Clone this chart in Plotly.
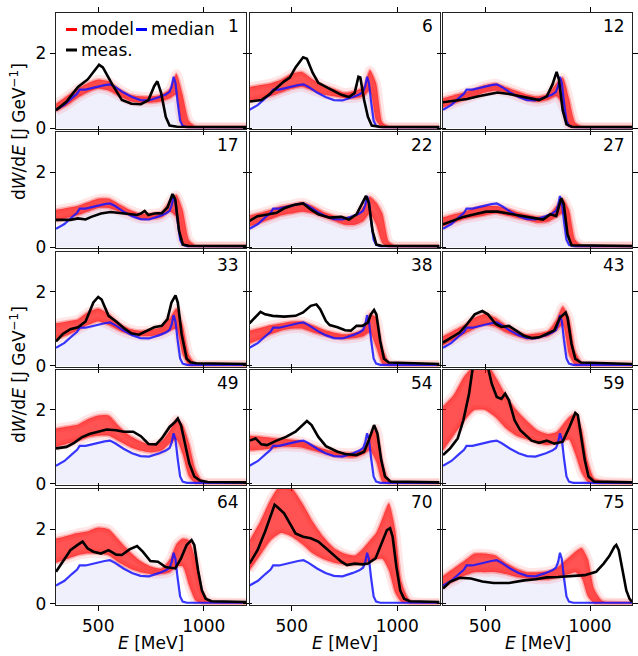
import plotly.graph_objects as go

W, H = 638, 656

# ---------------- data ----------------
panel_ids = [1, 6, 12, 17, 22, 27, 33, 38, 43, 49, 54, 59, 64, 70, 75]

median_E = [300, 340, 375, 400, 412, 440, 470, 500, 530, 556, 580, 620, 660, 700, 740, 790, 820, 838, 848, 857, 866, 876, 888, 900, 920, 1200]
median_V = [0.49, 0.62, 0.80, 0.92, 1.03, 1.03, 1.07, 1.12, 1.15, 1.17, 1.10, 0.95, 0.83, 0.75, 0.74, 0.83, 0.90, 0.97, 1.12, 1.37, 1.20, 0.70, 0.20, 0.06, 0.03, 0.03]

red_E = [300, 350, 400, 450, 500, 550, 600, 650, 700, 750, 800, 840, 870, 900, 930, 960, 990, 1020, 1060, 1200]

red_lo = {
    1:  [0.45, 0.60, 0.80, 0.95, 1.05, 1.00, 0.85, 0.72, 0.68, 0.68, 0.72, 0.80, 0.90, 0.05, 0.02, 0.02, 0.02, 0.02, 0.02, 0.02],
    6:  [0.70, 0.78, 0.85, 0.95, 1.05, 1.10, 1.00, 0.90, 0.85, 0.80, 0.80, 0.85, 1.00, 0.20, 0.02, 0.02, 0.02, 0.02, 0.02, 0.02],
    12: [0.55, 0.65, 0.75, 0.85, 0.95, 1.00, 0.95, 0.85, 0.75, 0.70, 0.75, 0.85, 0.60, 0.05, 0.02, 0.02, 0.02, 0.02, 0.02, 0.02],
    17: [0.70, 0.78, 0.85, 0.95, 1.05, 1.05, 0.95, 0.85, 0.75, 0.75, 0.80, 0.95, 0.80, 0.10, 0.02, 0.02, 0.02, 0.02, 0.02, 0.02],
    22: [0.55, 0.65, 0.75, 0.85, 0.90, 0.95, 0.90, 0.80, 0.70, 0.60, 0.60, 0.70, 0.90, 0.60, 0.10, 0.02, 0.02, 0.02, 0.02, 0.02],
    27: [0.55, 0.65, 0.75, 0.80, 0.85, 0.90, 0.85, 0.78, 0.72, 0.65, 0.68, 0.80, 0.90, 0.20, 0.02, 0.02, 0.02, 0.02, 0.02, 0.02],
    33: [0.70, 0.82, 0.95, 1.10, 1.20, 1.10, 0.95, 0.85, 0.80, 0.80, 0.85, 0.95, 1.00, 0.30, 0.02, 0.02, 0.02, 0.02, 0.02, 0.02],
    38: [0.60, 0.72, 0.85, 0.95, 1.00, 1.00, 0.90, 0.82, 0.75, 0.72, 0.75, 0.80, 0.90, 0.50, 0.05, 0.02, 0.02, 0.02, 0.02, 0.02],
    43: [0.55, 0.70, 0.85, 1.00, 1.10, 1.05, 0.90, 0.80, 0.72, 0.75, 0.80, 0.95, 1.10, 0.30, 0.02, 0.02, 0.02, 0.02, 0.02, 0.02],
    49: [1.00, 1.08, 1.15, 1.25, 1.30, 1.30, 1.15, 1.00, 0.90, 0.85, 0.90, 1.10, 1.20, 0.80, 0.20, 0.02, 0.02, 0.02, 0.02, 0.02],
    54: [0.90, 0.92, 0.95, 1.00, 1.00, 0.98, 0.90, 0.82, 0.75, 0.72, 0.72, 0.80, 0.90, 0.60, 0.05, 0.02, 0.02, 0.02, 0.02, 0.02],
    59: [0.90, 1.30, 1.70, 2.00, 2.00, 1.80, 1.50, 1.30, 1.20, 1.10, 1.05, 1.10, 1.15, 1.20, 0.80, 0.30, 0.05, 0.02, 0.02, 0.02],
    64: [1.10, 1.20, 1.30, 1.35, 1.35, 1.30, 1.10, 0.95, 0.85, 0.80, 0.80, 0.85, 1.00, 1.00, 0.50, 0.10, 0.02, 0.02, 0.02, 0.02],
    70: [0.90, 1.30, 1.70, 1.90, 1.80, 1.60, 1.35, 1.20, 1.10, 1.05, 1.05, 1.10, 1.15, 1.20, 1.20, 0.90, 0.30, 0.05, 0.02, 0.02],
    75: [0.45, 0.60, 0.75, 0.85, 0.85, 0.85, 0.80, 0.72, 0.68, 0.65, 0.65, 0.70, 0.75, 0.80, 0.85, 0.70, 0.20, 0.02, 0.02, 0.02],
}

red_hi = {
    1:  [0.65, 0.85, 1.05, 1.20, 1.30, 1.25, 1.05, 0.90, 0.85, 0.85, 0.90, 1.05, 1.45, 0.90, 0.20, 0.05, 0.04, 0.04, 0.04, 0.04],
    6:  [1.10, 1.15, 1.20, 1.30, 1.45, 1.50, 1.30, 1.15, 1.05, 0.95, 1.00, 1.10, 1.55, 1.20, 0.15, 0.05, 0.04, 0.04, 0.04, 0.04],
    12: [0.80, 0.88, 0.95, 1.05, 1.15, 1.20, 1.10, 1.00, 0.90, 0.85, 0.92, 1.20, 1.35, 0.80, 0.15, 0.05, 0.04, 0.04, 0.04, 0.04],
    17: [1.00, 1.05, 1.10, 1.20, 1.30, 1.30, 1.15, 1.00, 0.90, 0.90, 0.95, 1.25, 1.40, 1.00, 0.20, 0.05, 0.04, 0.04, 0.04, 0.04],
    22: [0.85, 0.92, 1.00, 1.10, 1.15, 1.20, 1.10, 0.95, 0.85, 0.80, 0.80, 1.10, 1.35, 1.20, 0.90, 0.15, 0.04, 0.04, 0.04, 0.04],
    27: [0.80, 0.88, 0.95, 1.05, 1.10, 1.10, 1.05, 0.95, 0.88, 0.82, 0.85, 1.10, 1.30, 1.00, 0.20, 0.05, 0.04, 0.04, 0.04, 0.04],
    33: [1.15, 1.20, 1.25, 1.45, 1.55, 1.40, 1.15, 1.00, 0.95, 0.98, 1.05, 1.30, 1.55, 1.10, 0.30, 0.06, 0.04, 0.04, 0.04, 0.04],
    38: [0.95, 1.02, 1.10, 1.15, 1.20, 1.20, 1.10, 0.98, 0.90, 0.85, 0.90, 1.00, 1.40, 1.30, 0.50, 0.10, 0.04, 0.04, 0.04, 0.04],
    43: [0.80, 0.95, 1.10, 1.30, 1.40, 1.30, 1.10, 0.95, 0.85, 0.88, 0.95, 1.25, 1.60, 1.30, 0.40, 0.10, 0.04, 0.04, 0.04, 0.04],
    49: [1.50, 1.55, 1.60, 1.75, 1.85, 1.85, 1.55, 1.30, 1.15, 1.05, 1.15, 1.45, 1.75, 1.60, 1.10, 0.40, 0.10, 0.04, 0.04, 0.04],
    54: [1.30, 1.28, 1.25, 1.22, 1.20, 1.15, 1.05, 0.95, 0.88, 0.85, 0.85, 0.95, 1.30, 1.50, 0.60, 0.10, 0.04, 0.04, 0.04, 0.04],
    59: [2.10, 2.40, 2.90, 3.20, 3.30, 2.90, 2.40, 2.00, 1.70, 1.45, 1.35, 1.40, 1.60, 1.80, 1.90, 1.50, 0.60, 0.15, 0.08, 0.04],
    64: [1.75, 1.82, 1.90, 1.95, 2.05, 2.00, 1.70, 1.40, 1.15, 1.00, 0.95, 1.20, 1.60, 1.75, 1.70, 1.20, 0.40, 0.10, 0.05, 0.04],
    70: [1.70, 2.20, 2.80, 3.20, 3.10, 2.70, 2.20, 1.80, 1.50, 1.35, 1.30, 1.50, 1.70, 1.90, 2.30, 2.70, 2.00, 0.60, 0.10, 0.04],
    75: [0.75, 0.95, 1.15, 1.35, 1.35, 1.30, 1.10, 0.95, 0.85, 0.85, 0.88, 0.95, 1.10, 1.25, 1.40, 1.50, 1.20, 0.40, 0.08, 0.04],
}

meas_E = {
    1:  [300, 350, 404, 450, 504, 522, 567, 612, 657, 702, 738, 765, 780, 798, 820, 838, 874, 1200],
    6:  [300, 356, 392, 428, 464, 491, 518, 554, 572, 599, 626, 680, 735, 771, 798, 816, 825, 843, 861, 879, 915, 1200],
    12: [300, 361, 415, 469, 523, 560, 614, 668, 722, 758, 794, 821, 841, 852, 870, 888, 912, 1200],
    17: [300, 368, 404, 440, 467, 513, 558, 603, 657, 684, 702, 720, 738, 765, 801, 828, 852, 865, 883, 901, 928, 1200],
    22: [300, 338, 392, 428, 464, 509, 554, 590, 626, 680, 735, 771, 807, 834, 852, 865, 883, 901, 924, 1200],
    27: [300, 343, 397, 451, 505, 560, 614, 668, 722, 776, 812, 839, 863, 875, 893, 912, 1200],
    33: [300, 332, 368, 404, 440, 477, 500, 516, 549, 585, 621, 657, 693, 729, 765, 801, 828, 847, 866, 877, 895, 919, 937, 964, 1200],
    38: [300, 329, 352, 374, 410, 464, 518, 554, 590, 617, 635, 662, 680, 717, 753, 780, 807, 834, 861, 875, 890, 901, 919, 937, 960, 1200],
    43: [300, 343, 379, 415, 451, 487, 514, 551, 578, 614, 650, 686, 722, 758, 794, 830, 857, 870, 884, 893, 912, 930, 957, 1200],
    49: [300, 350, 386, 422, 458, 495, 540, 585, 621, 666, 702, 738, 774, 801, 838, 865, 877, 892, 910, 931, 955, 982, 1018, 1200],
    54: [300, 329, 356, 383, 428, 473, 518, 554, 572, 594, 626, 662, 717, 753, 807, 843, 865, 890, 906, 924, 942, 969, 1200],
    59: [300, 334, 370, 397, 424, 442, 478, 514, 532, 556, 578, 596, 614, 641, 668, 695, 722, 758, 794, 830, 870, 902, 930, 942, 957, 975, 993, 1020, 1200],
    64: [300, 332, 368, 404, 426, 449, 477, 513, 549, 585, 612, 648, 684, 711, 747, 783, 819, 865, 892, 919, 942, 955, 973, 991, 1009, 1036, 1200],
    70: [300, 338, 374, 401, 419, 437, 464, 491, 518, 554, 590, 626, 662, 698, 735, 762, 798, 834, 861, 897, 930, 951, 966, 978, 996, 1014, 1032, 1059, 1200],
    75: [300, 334, 379, 433, 487, 541, 614, 686, 740, 794, 848, 921, 975, 1029, 1065, 1092, 1116, 1125, 1137, 1155, 1173, 1188, 1200],
}

meas_V = {
    1:  [0.48, 0.71, 1.10, 1.30, 1.69, 1.62, 1.16, 0.75, 0.65, 0.64, 0.75, 1.12, 1.25, 0.94, 0.30, 0.07, 0.04, 0.03],
    6:  [0.71, 0.75, 0.89, 1.07, 1.25, 1.35, 1.62, 1.89, 1.85, 1.48, 1.21, 1.05, 0.89, 0.83, 0.94, 1.37, 1.35, 0.75, 0.30, 0.07, 0.04, 0.03],
    12: [0.69, 0.73, 0.78, 0.85, 0.92, 0.95, 0.91, 0.85, 0.77, 0.75, 0.85, 1.16, 1.50, 1.30, 0.48, 0.10, 0.04, 0.03],
    17: [0.73, 0.73, 0.77, 0.74, 0.81, 0.90, 0.94, 0.92, 0.88, 0.86, 0.90, 0.97, 0.86, 0.90, 0.91, 1.06, 1.42, 1.28, 0.43, 0.07, 0.04, 0.03],
    22: [0.70, 0.83, 0.88, 0.92, 1.04, 1.13, 1.17, 1.01, 0.88, 0.79, 0.81, 0.74, 0.88, 1.15, 1.37, 1.19, 0.43, 0.07, 0.04, 0.03],
    27: [0.61, 0.70, 0.81, 0.88, 0.95, 0.95, 0.90, 0.86, 0.79, 0.74, 0.88, 0.83, 1.31, 1.15, 0.34, 0.05, 0.03],
    33: [0.66, 0.86, 0.99, 1.04, 1.20, 1.71, 1.86, 1.79, 1.35, 1.20, 1.02, 0.88, 0.84, 0.93, 1.04, 1.08, 1.26, 1.71, 1.90, 1.71, 0.86, 0.19, 0.10, 0.07, 0.05],
    38: [1.15, 1.32, 1.46, 1.39, 1.35, 1.33, 1.35, 1.44, 1.62, 1.66, 1.53, 1.21, 1.10, 1.04, 0.96, 0.95, 1.08, 1.08, 1.17, 1.39, 1.51, 1.39, 0.68, 0.19, 0.09, 0.05],
    43: [0.63, 0.77, 0.90, 1.13, 1.39, 1.48, 1.39, 1.13, 1.05, 1.08, 0.95, 0.81, 0.75, 0.77, 0.86, 0.96, 1.30, 1.38, 1.44, 1.30, 0.59, 0.19, 0.09, 0.05],
    49: [0.96, 1.00, 1.11, 1.26, 1.35, 1.41, 1.47, 1.45, 1.41, 1.41, 1.29, 1.08, 1.07, 1.23, 1.54, 1.68, 1.77, 1.59, 1.09, 0.56, 0.20, 0.09, 0.05, 0.04],
    54: [1.17, 1.23, 1.07, 1.05, 1.17, 1.27, 1.41, 1.61, 1.70, 1.59, 1.27, 1.02, 0.87, 0.81, 0.78, 0.87, 1.18, 1.59, 1.36, 0.65, 0.20, 0.06, 0.04],
    59: [0.78, 0.96, 1.23, 1.72, 2.44, 3.15, 3.60, 3.15, 2.71, 2.35, 2.30, 2.44, 2.26, 1.72, 1.45, 1.32, 1.17, 1.11, 1.17, 1.09, 1.14, 1.54, 1.92, 1.86, 1.32, 0.65, 0.20, 0.06, 0.04],
    64: [0.86, 1.13, 1.44, 1.59, 1.67, 1.49, 1.40, 1.35, 1.44, 1.32, 1.31, 1.46, 1.55, 1.40, 1.15, 1.13, 0.99, 0.95, 1.22, 1.58, 1.71, 1.58, 0.90, 0.36, 0.14, 0.07, 0.05],
    70: [1.08, 1.44, 1.94, 2.34, 2.66, 2.57, 2.43, 2.16, 1.89, 1.80, 1.76, 1.67, 1.49, 1.33, 1.13, 1.04, 1.08, 1.06, 1.08, 1.22, 1.67, 1.98, 2.03, 1.80, 0.99, 0.36, 0.14, 0.07, 0.05],
    75: [0.41, 0.59, 0.70, 0.68, 0.60, 0.56, 0.56, 0.63, 0.66, 0.71, 0.72, 0.74, 0.77, 0.86, 1.08, 1.28, 1.53, 1.58, 1.44, 0.90, 0.36, 0.14, 0.05],
}

x_ticks = [500, 1000]
y_ticks = [0, 2]

# ---------------- layout geometry ----------------
col_px = [(56, 246), (249.5, 439.5), (443, 632)]
row_px = [(12.7, 129.3), (132, 248.3), (251.7, 367), (370, 485), (489, 605)]
FONT = "DejaVu Sans"


def px_x(p):
    return p / W


def px_y(p):
    return 1 - p / H


fig = go.Figure()
layout = dict(
    width=W, height=H,
    margin=dict(l=0, r=0, t=0, b=0),
    paper_bgcolor="white", plot_bgcolor="white",
    showlegend=False,
    font=dict(family=FONT, size=17, color="black"),
)
annotations = []
shapes = []
SPL = dict(shape="spline", smoothing=0.6)

for k, pid in enumerate(panel_ids):
    r, c = divmod(k, 3)
    n = k + 1
    xa = "x" if n == 1 else f"x{n}"
    ya = "y" if n == 1 else f"y{n}"
    xkey = "xaxis" if n == 1 else f"xaxis{n}"
    ykey = "yaxis" if n == 1 else f"yaxis{n}"
    x0, x1 = col_px[c]
    y0, y1 = row_px[r]
    layout[xkey] = dict(
        domain=[px_x(x0), px_x(x1)], anchor=ya, range=[300, 1200],
        tickvals=x_ticks, ticks="outside", ticklen=5, tickwidth=1.4, tickcolor="black",
        showline=True, linecolor="#222", linewidth=1.3, mirror="allticks",
        showgrid=False, zeroline=False, showticklabels=(r == 4),
        tickfont=dict(family=FONT, size=17, color="black"), automargin=False,
    )
    layout[ykey] = dict(
        domain=[px_y(y1), px_y(y0)], anchor=xa, range=[-0.03, 3.08],
        tickvals=y_ticks, ticks="outside", ticklen=5, tickwidth=1.4, tickcolor="black",
        showline=True, linecolor="#222", linewidth=1.3, mirror="allticks",
        showgrid=False, zeroline=False, showticklabels=(c == 0),
        tickfont=dict(family=FONT, size=17, color="black"), automargin=False,
    )

    # median fill
    fig.add_trace(go.Scatter(x=median_E, y=median_V, xaxis=xa, yaxis=ya, mode="lines",
                             line=dict(width=0), fill="tozeroy",
                             fillcolor="rgba(60,60,230,0.08)", hoverinfo="skip"))
    lo = red_lo[pid]
    hi = red_hi[pid]
    # soft outer glow of the ensemble
    for edge in (lo, hi):
        fig.add_trace(go.Scatter(x=red_E, y=edge, xaxis=xa, yaxis=ya, mode="lines",
                                 line=dict(width=9, color="rgba(255,60,60,0.12)", **SPL),
                                 hoverinfo="skip"))
    # model ensemble band
    fig.add_trace(go.Scatter(x=red_E, y=lo, xaxis=xa, yaxis=ya, mode="lines",
                             line=dict(width=0, color="rgba(255,0,0,0)", **SPL),
                             hoverinfo="skip"))
    fig.add_trace(go.Scatter(x=red_E, y=hi, xaxis=xa, yaxis=ya, mode="lines",
                             line=dict(width=0, color="rgba(255,0,0,0)", **SPL),
                             fill="tonexty", fillcolor="rgba(255,0,0,0.68)",
                             hoverinfo="skip"))
    for edge in (lo, hi):
        fig.add_trace(go.Scatter(x=red_E, y=edge, xaxis=xa, yaxis=ya, mode="lines",
                                 line=dict(width=3, color="rgba(255,40,40,0.30)", **SPL),
                                 hoverinfo="skip"))
    # median line
    fig.add_trace(go.Scatter(x=median_E, y=median_V, xaxis=xa, yaxis=ya, mode="lines",
                             line=dict(width=2.2, color="rgba(20,20,255,0.85)"),
                             hoverinfo="skip"))
    # measurement
    fig.add_trace(go.Scatter(x=meas_E[pid], y=meas_V[pid], xaxis=xa, yaxis=ya,
                             mode="lines", line=dict(width=2.6, color="black"),
                             hoverinfo="skip"))

    # panel number
    annotations.append(dict(text=str(pid), xref="paper", yref="paper",
                            x=px_x(x1 - 5), y=px_y(y0 + 13), xanchor="right",
                            yanchor="middle", showarrow=False,
                            font=dict(family=FONT, size=17, color="black")))
    if r == 4:
        annotations.append(dict(text="<i>E</i> [MeV]", xref="paper", yref="paper",
                                x=px_x((x0 + x1) / 2), y=px_y(643), xanchor="center",
                                yanchor="middle", showarrow=False,
                                font=dict(family=FONT, size=17, color="black")))

# y-axis labels
for yc in (132, 375):
    annotations.append(dict(text="d<i>W</i>/d<i>E</i> [J GeV<sup>\u22121</sup>]",
                            xref="paper", yref="paper", x=px_x(18), y=px_y(yc),
                            xanchor="center", yanchor="middle", textangle=-90,
                            showarrow=False, font=dict(family=FONT, size=17, color="black")))

# legend (in panel 1)
leg = [("model", "red", 66, 29.5), ("median", "blue", 136, 29.5), ("meas.", "black", 66, 50)]
for label, col, lx, ly in leg:
    shapes.append(dict(type="line", xref="paper", yref="paper",
                       x0=px_x(lx), x1=px_x(lx + 11), y0=px_y(ly), y1=px_y(ly),
                       line=dict(color=col, width=3)))
    annotations.append(dict(text=label, xref="paper", yref="paper",
                            x=px_x(lx + 12.5), y=px_y(ly), xanchor="left", yanchor="middle",
                            showarrow=False, font=dict(family=FONT, size=17, color="black")))

layout["annotations"] = annotations
layout["shapes"] = shapes
fig.update_layout(**layout)
fig.write_html("out.html", config={"displayModeBar": False},
               post_script="document.body.style.margin='0px';document.body.style.overflow='hidden';")
